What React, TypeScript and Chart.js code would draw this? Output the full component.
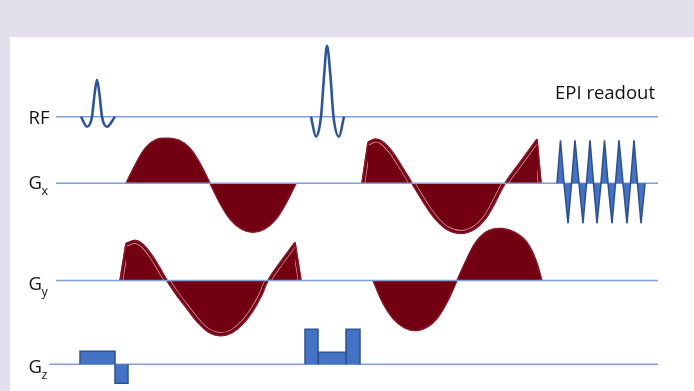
import React, { useEffect, useRef } from 'react';
import { Chart, registerables } from 'chart.js';

Chart.register(...registerables);

// ---------- data (time along the sequence in a.u., amplitude in a.u.) ----------
const rf1Time = [81, 87, 92, 94.5, 97, 99.5, 102, 107, 115];
const rf1Amp = [0, -10, 0, 22, 37, 22, 0, -10, 0];
const rf2Time = [311, 316, 321, 324, 327, 330.5, 333.5, 339, 344];
const rf2Amp = [0, -20, 0, 40, 71, 40, 0, -20, 0];

const gx1Time = [126, 136, 146, 157, 168, 179, 190, 200, 210, 220, 231, 242, 253, 264, 275, 286, 296];
const gx1Amp = [0, 20, 36, 44, 45, 43, 35, 20, 0, -20, -37, -46, -49, -46, -37, -20, 0];

const gx2UpTime = [362, 368];
const gx2UpAmp = [0, 41];
const gx2Time = [368, 375, 382, 391, 401, 412, 423, 434, 447, 461, 474, 485, 494, 505, 521, 537];
const gx2Amp = [41, 44, 42, 33, 18, 0, -18, -34, -46, -50, -46, -36, -21, 0, 22, 44];
const gx2DownTime = [537, 541];
const gx2DownAmp = [44, 0];

const epiTime = [557, 560.5, 564, 568, 571.5, 575, 579, 583, 586.5, 590, 593.5, 597, 601, 604.5, 608, 612, 615.5, 619, 623, 627, 630.5, 634, 637.5, 641, 645];
const epiAmp = [0, 43, 0, -40, 0, 43, 0, -40, 0, 43, 0, -40, 0, 43, 0, -40, 0, 43, 0, -40, 0, 43, 0, -40, 0];

const gy1UpTime = [120, 126];
const gy1UpAmp = [0, 37];
const gy1Time = [126, 135, 143, 152, 160, 167, 177, 187, 198, 208, 220, 232, 243, 253, 261, 268, 281, 295];
const gy1Amp = [37, 40, 36, 25, 12, 0, -15, -28, -42, -51, -55, -52, -43, -30, -16, 0, 19, 38];
const gy1DownTime = [295, 301];
const gy1DownAmp = [38, 0];

const gy2Time = [373, 383, 393, 404, 416, 428, 437, 447, 457, 467, 477, 489, 502, 515, 527, 536, 542];
const gy2Amp = [0, -23, -38, -47, -50, -46, -38, -22, 0, 22, 40, 50, 52, 48, 38, 20, 0];

const gzStart = [80, 115, 305, 318, 346];
const gzEnd = [115, 128, 318, 346, 360];
const gzAmp = [13, -19, 35, 12, 35];

const rowAxes = ['yRF', 'yGx', 'yGy', 'yGz'];
const rowLabels = ['RF', 'G', 'G', 'G'];
const rowSubs = ['', 'x', 'y', 'z'];
const rowLineStart = [56, 56, 56, 49.5];
const rowLineEnd = [658, 658, 658, 658];
const readoutLabel = 'EPI readout';

// ---------- layout / style ----------
const W = 694;
const H = 391;
const rowZero: Record<string, number> = { yRF: 116.7, yGx: 183.3, yGy: 280.5, yGz: 364.3 };
const labelBase: Record<string, number> = { yRF: 124, yGx: 188.5, yGy: 290, yGz: 373 };

const RED_FILL = '#720012';
const RED_BORDER = '#871626';
const BLUE_FILL = '#4472c4';
const BLUE_BORDER = '#2f528f';
const RF_COLOR = '#2f5597';
const AXIS_COLOR = '#7f9fd5';
const FONT = '"Open Sans", "Liberation Sans", sans-serif';

const pts = (t: number[], a: number[]) => t.map((x, i) => ({ x, y: a[i] }));

const innerLinePlugin = {
  id: 'innerLine',
  afterDatasetDraw(chart: any, args: any) {
    const ds = chart.data.datasets[args.index];
    if (!ds || !ds.innerLine) return;
    const meta = args.meta;
    const line = meta.dataset;
    const p = meta.data;
    if (!line || !p.length) return;
    const base = chart.scales[ds.yAxisID].getPixelForValue(0);
    const ctx = chart.ctx as CanvasRenderingContext2D;
    ctx.save();
    ctx.beginPath();
    line.path(ctx);
    ctx.lineTo(p[p.length - 1].x, base);
    ctx.lineTo(p[0].x, base);
    ctx.closePath();
    ctx.clip();
    ctx.beginPath();
    line.path(ctx);
    ctx.lineJoin = 'round';
    ctx.strokeStyle = 'rgba(236,190,196,0.85)';
    ctx.lineWidth = 6.4;
    ctx.stroke();
    ctx.strokeStyle = RED_FILL;
    ctx.lineWidth = 5;
    ctx.stroke();
    ctx.restore();
    ctx.save();
    ctx.beginPath();
    line.path(ctx);
    ctx.strokeStyle = RED_BORDER;
    ctx.lineWidth = 1.5;
    ctx.stroke();
    ctx.restore();
  },
};

const labelPlugin = {
  id: 'rowLabels',
  afterDraw(chart: any) {
    const ctx = chart.ctx as CanvasRenderingContext2D;
    ctx.save();
    ctx.fillStyle = '#111111';
    ctx.textBaseline = 'alphabetic';
    ctx.textAlign = 'left';
    rowAxes.forEach((ax, i) => {
      const x = 28.5;
      const y = labelBase[ax];
      ctx.font = `18.5px ${FONT}`;
      ctx.fillText(rowLabels[i], x, y);
      const w = ctx.measureText(rowLabels[i]).width;
      if (rowSubs[i]) {
        ctx.font = `12.5px ${FONT}`;
        ctx.fillText(rowSubs[i], x + w - 0.5, y + 6);
      }
    });
    ctx.font = `18.5px ${FONT}`;
    ctx.fillText(readoutLabel, 555, 99);
    ctx.restore();
  },
};

export default function App() {
  const ref = useRef<HTMLCanvasElement>(null);

  useEffect(() => {
    if (!ref.current) return;

    const redShape = (data: any[], axis: string, smooth: boolean, inner: boolean) => ({
      data,
      yAxisID: axis,
      borderColor: RED_BORDER,
      backgroundColor: RED_FILL,
      borderWidth: 1.5,
      fill: 'origin',
      pointRadius: 0,
      tension: smooth ? 0.4 : 0,
      innerLine: inner,
    });

    const rfLine = (data: any[]) => ({
      data,
      yAxisID: 'yRF',
      borderColor: RF_COLOR,
      borderWidth: 2.6,
      fill: false,
      pointRadius: 0,
      cubicInterpolationMode: 'monotone',
    });

    const gzSets = gzStart.map((s, i) => ({
      data: [
        { x: s, y: 0 },
        { x: s, y: gzAmp[i] },
        { x: gzEnd[i], y: gzAmp[i] },
        { x: gzEnd[i], y: 0 },
      ],
      yAxisID: 'yGz',
      borderColor: BLUE_BORDER,
      backgroundColor: BLUE_FILL,
      borderWidth: 1.5,
      fill: 'origin',
      pointRadius: 0,
      tension: 0,
    }));

    const baseSets = rowAxes.map((ax, i) => ({
      data: [
        { x: rowLineStart[i], y: 0 },
        { x: rowLineEnd[i], y: 0 },
      ],
      yAxisID: ax,
      borderColor: AXIS_COLOR,
      borderWidth: 1.5,
      fill: false,
      pointRadius: 0,
      tension: 0,
    }));

    const epiSet = {
      data: pts(epiTime, epiAmp),
      yAxisID: 'yGx',
      borderColor: BLUE_BORDER,
      backgroundColor: BLUE_FILL,
      borderWidth: 1.6,
      fill: 'origin',
      pointRadius: 0,
      tension: 0,
      borderJoinStyle: 'miter',
    };

    const datasets: any[] = [
      rfLine(pts(rf1Time, rf1Amp)),
      rfLine(pts(rf2Time, rf2Amp)),
      ...gzSets,
      epiSet,
      ...baseSets,
      redShape(pts(gx1Time, gx1Amp), 'yGx', true, false),
      redShape(pts(gx2UpTime, gx2UpAmp), 'yGx', false, true),
      redShape(pts(gx2DownTime, gx2DownAmp), 'yGx', false, true),
      redShape(pts(gx2Time, gx2Amp), 'yGx', true, true),
      redShape(pts(gy1UpTime, gy1UpAmp), 'yGy', false, true),
      redShape(pts(gy1DownTime, gy1DownAmp), 'yGy', false, true),
      redShape(pts(gy1Time, gy1Amp), 'yGy', true, true),
      redShape(pts(gy2Time, gy2Amp), 'yGy', true, false),
    ];

    const rowScale = (ax: string) => ({
      type: 'linear',
      display: false,
      min: rowZero[ax] - H,
      max: rowZero[ax],
    });

    const chart = new Chart(ref.current, {
      type: 'line',
      data: { datasets },
      options: {
        animation: false,
        responsive: false,
        events: [],
        layout: { padding: 0, autoPadding: false },
        plugins: { legend: { display: false }, tooltip: { enabled: false } },
        scales: {
          x: { type: 'linear', display: false, min: 0, max: W },
          yRF: rowScale('yRF'),
          yGx: rowScale('yGx'),
          yGy: rowScale('yGy'),
          yGz: rowScale('yGz'),
        } as any,
      } as any,
      plugins: [innerLinePlugin, labelPlugin],
    });
    return () => chart.destroy();
  }, []);

  return (
    <div style={{ position: 'fixed', left: 0, top: 0, width: W, height: H, background: '#e4dfec', overflow: 'hidden' }}>
      <div style={{ position: 'absolute', left: 10, top: 37, right: 0, bottom: 0, background: '#ffffff' }} />
      <canvas ref={ref} width={W} height={H} style={{ position: 'absolute', left: 0, top: 0, width: W, height: H }} />
    </div>
  );
}
